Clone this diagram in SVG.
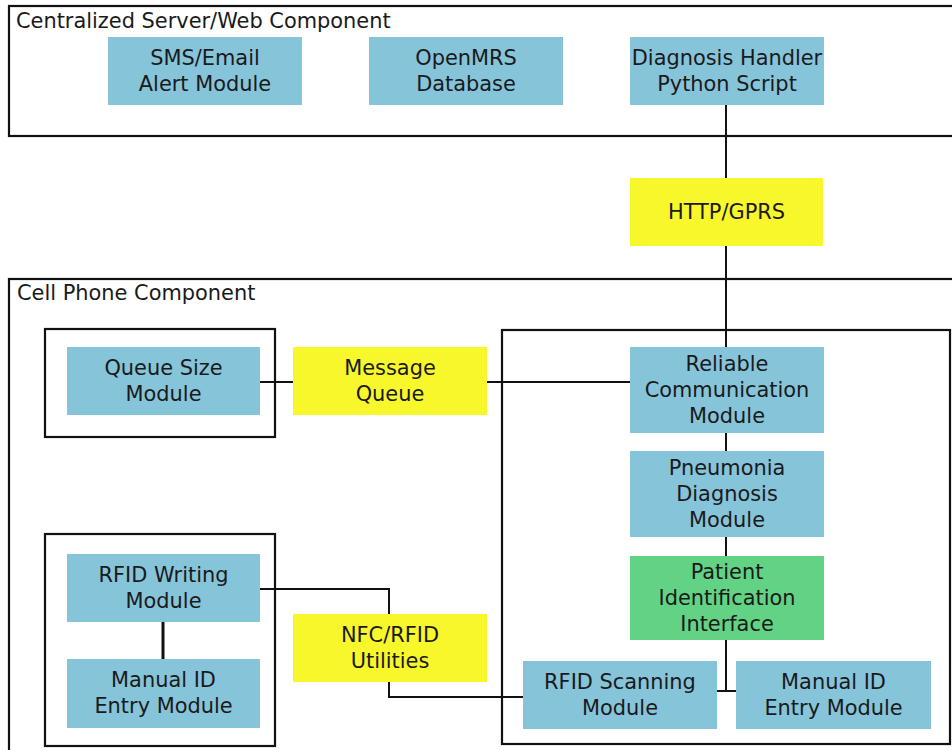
<svg xmlns="http://www.w3.org/2000/svg" width="952" height="750" viewBox="0 0 952 750">
<style>
.bg{fill:#ffffff}
.frame{fill:none;stroke:#111;stroke-width:2.2}
.blue{fill:#86c4da}
.yellow{fill:#f7f72c}
.green{fill:#62d384}
.t{font-family:"DejaVu Sans","Liberation Sans",sans-serif;font-size:20.9px;fill:#1a1a1a;text-anchor:middle}
.title{font-family:"DejaVu Sans","Liberation Sans",sans-serif;font-size:20.9px;fill:#1a1a1a}
.conn{fill:none;stroke:#111;stroke-width:2}
</style>
<rect class="bg" x="0" y="0" width="952" height="750"/>
<g id="server-component">
<rect class="frame" x="9" y="6" width="960" height="130"/>
<text class="title" x="16" y="28">Centralized Server/Web Component</text>
</g>
<g id="cell-component">
<rect class="frame" x="9" y="279" width="960" height="490"/>
<text class="title" x="17" y="300">Cell Phone Component</text>
</g>
<g id="queue-group"><rect class="frame" x="45" y="329" width="230" height="108"/></g>
<g id="rfid-write-group"><rect class="frame" x="45" y="534" width="230" height="212"/></g>
<g id="core-group"><rect class="frame" x="502" y="330" width="448" height="414"/></g>
<g id="connectors">
<path class="conn" d="M726 105V178M726 246V347"/>
<path class="conn" d="M260 382H293M487 382H630"/>
<path class="conn" d="M726 433V451M726 537V556"/>
<path class="conn" d="M726 640V691M717 691H736"/>
<path class="conn" d="M163 622V659" style="stroke-width:3"/>
<path class="conn" d="M260 589H389V614"/>
<path class="conn" d="M389 682V697H523"/>
</g>
<g id="sms-email"><rect class="blue" x="108" y="37" width="194" height="68"/><text class="t" x="205" y="65">SMS/Email</text><text class="t" x="205" y="91">Alert Module</text></g>
<g id="openmrs"><rect class="blue" x="369" y="37" width="194" height="68"/><text class="t" x="466" y="65">OpenMRS</text><text class="t" x="466" y="91">Database</text></g>
<g id="diagnosis-handler"><rect class="blue" x="630" y="37" width="194" height="68"/><text class="t" x="727" y="65">Diagnosis Handler</text><text class="t" x="727" y="91">Python Script</text></g>
<g id="http-gprs"><rect class="yellow" x="630" y="178" width="193" height="68"/><text class="t" x="726.5" y="219">HTTP/GPRS</text></g>
<g id="queue-size"><rect class="blue" x="67" y="347" width="193" height="68"/><text class="t" x="163.5" y="375">Queue Size</text><text class="t" x="163.5" y="401">Module</text></g>
<g id="message-queue"><rect class="yellow" x="293" y="347" width="194" height="68"/><text class="t" x="390" y="375">Message</text><text class="t" x="390" y="401">Queue</text></g>
<g id="reliable-comm"><rect class="blue" x="630" y="347" width="194" height="86"/><text class="t" x="727" y="371">Reliable</text><text class="t" x="727" y="397">Communication</text><text class="t" x="727" y="423">Module</text></g>
<g id="pneumonia"><rect class="blue" x="630" y="451" width="194" height="86"/><text class="t" x="727" y="475">Pneumonia</text><text class="t" x="727" y="501">Diagnosis</text><text class="t" x="727" y="527">Module</text></g>
<g id="patient-id"><rect class="green" x="630" y="556" width="194" height="84"/><text class="t" x="727" y="579">Patient</text><text class="t" x="727" y="605">Identification</text><text class="t" x="727" y="631">Interface</text></g>
<g id="rfid-scanning"><rect class="blue" x="523" y="661" width="194" height="68"/><text class="t" x="620" y="689">RFID Scanning</text><text class="t" x="620" y="715">Module</text></g>
<g id="manual-id-right"><rect class="blue" x="736" y="661" width="195" height="68"/><text class="t" x="833.5" y="689">Manual ID</text><text class="t" x="833.5" y="715">Entry Module</text></g>
<g id="rfid-writing"><rect class="blue" x="67" y="554" width="193" height="68"/><text class="t" x="163.5" y="582">RFID Writing</text><text class="t" x="163.5" y="608">Module</text></g>
<g id="manual-id-left"><rect class="blue" x="67" y="659" width="193" height="69"/><text class="t" x="163.5" y="687">Manual ID</text><text class="t" x="163.5" y="713">Entry Module</text></g>
<g id="nfc-rfid"><rect class="yellow" x="293" y="614" width="194" height="68"/><text class="t" x="390" y="642">NFC/RFID</text><text class="t" x="390" y="668">Utilities</text></g>
</svg>
